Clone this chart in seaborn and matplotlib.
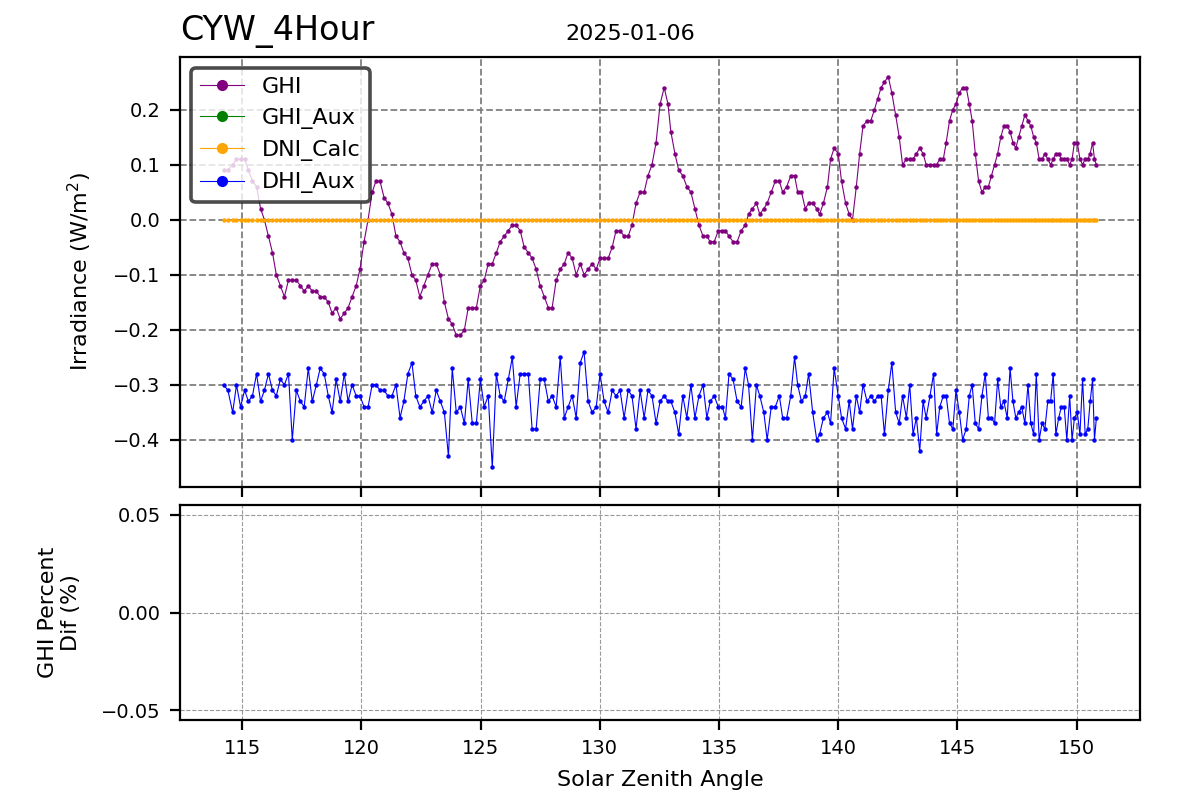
import numpy as np
import pandas as pd
import matplotlib
matplotlib.use("Agg")
import matplotlib.pyplot as plt
import seaborn as sns
from matplotlib.lines import Line2D

# ---------------- data ----------------
zenith = [
    114.22, 114.40, 114.60, 114.76, 114.93, 115.10, 115.26, 115.43, 115.60, 115.77,
    115.93, 116.10, 116.27, 116.43, 116.60, 116.77, 116.94, 117.10, 117.27, 117.44,
    117.60, 117.77, 117.94, 118.11, 118.27, 118.44, 118.61, 118.77, 118.94, 119.11,
    119.28, 119.44, 119.61, 119.78, 119.94, 120.11, 120.28, 120.45, 120.61, 120.78,
    120.95, 121.11, 121.28, 121.45, 121.62, 121.78, 121.95, 122.12, 122.28, 122.45,
    122.62, 122.79,
    122.97, 123.14, 123.31, 123.48, 123.65, 123.81, 123.98, 124.15, 124.32, 124.48,
    124.65, 124.82, 124.99, 125.15, 125.32, 125.49, 125.66, 125.82, 125.99, 126.16,
    126.33, 126.49, 126.66, 126.83, 127.00, 127.16, 127.33, 127.50, 127.67, 127.84,
    128.00, 128.17, 128.34, 128.51, 128.67, 128.84, 129.01, 129.18, 129.34, 129.51,
    129.68, 129.85, 130.01, 130.18, 130.35, 130.52, 130.68, 130.85, 131.02, 131.19,
    131.35, 131.52, 131.69, 131.86, 132.02, 132.19, 132.36, 132.53, 132.70, 132.86,
    132.98, 133.15, 133.31, 133.48, 133.65, 133.82, 133.99, 134.16, 134.33, 134.49,
    134.63, 134.80, 134.97, 135.14, 135.27, 135.42, 135.59, 135.76, 135.93, 136.10,
    136.24, 136.40, 136.57, 136.71, 136.88, 137.02, 137.19, 137.36, 137.53, 137.67,
    137.84, 138.01, 138.17, 138.30, 138.46, 138.62, 138.76, 138.93, 139.10, 139.22,
    139.38, 139.55, 139.68, 139.83, 140.00, 140.14, 140.31, 140.46, 140.60, 140.76,
    140.90, 141.04, 141.21, 141.37, 141.52, 141.66, 141.80, 141.94, 142.10, 142.25,
    142.41, 142.56, 142.70, 142.86, 143.00,
    143.14, 143.28, 143.42, 143.56, 143.69, 143.85, 144.00, 144.13, 144.26, 144.41,
    144.53, 144.67, 144.81, 144.94, 145.08, 145.22, 145.37, 145.50, 145.62, 145.75,
    145.89, 146.03, 146.17, 146.30, 146.43, 146.56, 146.69, 146.82, 146.95, 147.09,
    147.21, 147.33, 147.45, 147.57, 147.70, 147.83, 147.96, 148.08, 148.20, 148.31,
    148.43, 148.55, 148.67, 148.79, 148.91, 149.02, 149.13, 149.25, 149.36, 149.48,
    149.59, 149.71, 149.81, 149.91, 150.03, 150.14, 150.25, 150.36, 150.47, 150.57,
    150.67, 150.75, 150.83,
]

ghi = [
    0.09, 0.09, 0.10, 0.11, 0.11, 0.11, 0.09, 0.07, 0.06, 0.02,
    0.00, -0.03, -0.06, -0.10, -0.12, -0.14, -0.11, -0.11, -0.11, -0.12,
    -0.13, -0.12, -0.13, -0.13, -0.14, -0.14, -0.15, -0.17, -0.16, -0.18,
    -0.17, -0.16, -0.14, -0.12, -0.09, -0.04, 0.00, 0.05, 0.07, 0.07,
    0.04, 0.03, 0.01, -0.03, -0.04, -0.06, -0.07, -0.10, -0.11, -0.14,
    -0.12, -0.10,
    -0.08, -0.08, -0.10, -0.15, -0.18, -0.19, -0.21, -0.21, -0.20, -0.16,
    -0.16, -0.16, -0.12, -0.11, -0.08, -0.08, -0.06, -0.04, -0.03, -0.02,
    -0.01, -0.01, -0.02, -0.05, -0.06, -0.07, -0.09, -0.12, -0.14, -0.16,
    -0.16, -0.11, -0.09, -0.08, -0.06, -0.07, -0.10, -0.08, -0.10, -0.09,
    -0.08, -0.09, -0.07, -0.07, -0.07, -0.05, -0.02, -0.02, -0.03, -0.03,
    -0.01, 0.03, 0.05, 0.05, 0.08, 0.10, 0.14, 0.21, 0.24, 0.21,
    0.16, 0.12, 0.09, 0.08, 0.06, 0.05, 0.02, -0.01, -0.03, -0.03,
    -0.04, -0.04, -0.02, -0.02, -0.02, -0.03, -0.04, -0.04, -0.02, -0.01,
    0.01, 0.02, 0.03, 0.01, 0.02, 0.03, 0.05, 0.07, 0.07, 0.05,
    0.06, 0.08, 0.08, 0.05, 0.05, 0.02, 0.03, 0.03, 0.02, 0.01,
    0.03, 0.06, 0.11, 0.13, 0.12, 0.07, 0.03, 0.01, 0.00, 0.06,
    0.12, 0.17, 0.18, 0.18, 0.20, 0.22, 0.24, 0.25, 0.26, 0.23,
    0.19, 0.15, 0.10, 0.11, 0.11,
    0.11, 0.12, 0.13, 0.12, 0.10, 0.10, 0.10, 0.10, 0.11, 0.11,
    0.14, 0.18, 0.20, 0.21, 0.23, 0.24, 0.24, 0.21, 0.18, 0.12,
    0.07, 0.05, 0.06, 0.06, 0.08, 0.10, 0.12, 0.15, 0.17, 0.17,
    0.16, 0.14, 0.13, 0.15, 0.17, 0.19, 0.18, 0.17, 0.15, 0.14,
    0.11, 0.11, 0.12, 0.11, 0.10, 0.11, 0.12, 0.12, 0.11, 0.11,
    0.11, 0.10, 0.11, 0.14, 0.14, 0.11, 0.10, 0.11, 0.11, 0.12,
    0.14, 0.11, 0.10,
]

dhi_aux = [
    -0.30, -0.31, -0.35, -0.30, -0.34, -0.31, -0.33, -0.32, -0.28, -0.33,
    -0.31, -0.28, -0.31, -0.32, -0.29, -0.30, -0.28, -0.40, -0.31, -0.33,
    -0.34, -0.27, -0.33, -0.30, -0.27, -0.28, -0.32, -0.35, -0.29, -0.33,
    -0.28, -0.33, -0.30, -0.32, -0.32, -0.34, -0.34, -0.30, -0.30, -0.31,
    -0.31, -0.32, -0.32, -0.30, -0.36, -0.33, -0.28, -0.26, -0.32, -0.34,
    -0.33, -0.32,
    -0.35, -0.31, -0.33, -0.35, -0.43, -0.27, -0.35, -0.34, -0.37, -0.29,
    -0.37, -0.37, -0.29, -0.34, -0.32, -0.45, -0.28, -0.32, -0.33, -0.29,
    -0.25, -0.34, -0.28, -0.28, -0.28, -0.38, -0.38, -0.29, -0.29, -0.33,
    -0.32, -0.34, -0.25, -0.36, -0.34, -0.32, -0.36, -0.26, -0.24, -0.33,
    -0.35, -0.34, -0.28, -0.33, -0.35, -0.31, -0.32, -0.31, -0.36, -0.31,
    -0.32, -0.38, -0.31, -0.36, -0.31, -0.32, -0.37, -0.33, -0.32, -0.33,
    -0.33, -0.35, -0.39, -0.32, -0.36, -0.30, -0.36, -0.32, -0.30, -0.36,
    -0.33, -0.32, -0.34, -0.34, -0.36, -0.28, -0.29, -0.33, -0.34, -0.27,
    -0.30, -0.40, -0.30, -0.32, -0.35, -0.40, -0.34, -0.34, -0.32, -0.36,
    -0.36, -0.32, -0.25, -0.30, -0.33, -0.32, -0.28, -0.35, -0.40, -0.39,
    -0.36, -0.35, -0.37, -0.27, -0.32, -0.36, -0.38, -0.33, -0.38, -0.32,
    -0.35, -0.30, -0.33, -0.32, -0.33, -0.32, -0.32, -0.39, -0.31, -0.26,
    -0.35, -0.37, -0.32, -0.36, -0.30,
    -0.39, -0.36, -0.42, -0.33, -0.36, -0.32, -0.28, -0.39, -0.34, -0.32,
    -0.32, -0.37, -0.38, -0.31, -0.35, -0.40, -0.38, -0.32, -0.30, -0.37,
    -0.38, -0.32, -0.28, -0.36, -0.36, -0.37, -0.29, -0.34, -0.33, -0.36,
    -0.27, -0.33, -0.36, -0.35, -0.34, -0.37, -0.30, -0.37, -0.39, -0.28,
    -0.40, -0.37, -0.38, -0.33, -0.33, -0.28, -0.39, -0.36, -0.34, -0.34,
    -0.40, -0.32, -0.40, -0.36, -0.35, -0.39, -0.29, -0.39, -0.38, -0.33,
    -0.29, -0.40, -0.36,
]

dni_calc = [0.0] * len(zenith)          # flat at zero across the whole range
ghi_aux = [np.nan] * len(zenith)        # no visible values

series_names = ["GHI", "GHI_Aux", "DNI_Calc", "DHI_Aux"]
series_colors = ["purple", "green", "orange", "blue"]

station_title = "CYW_4Hour"
date_title = "2025-01-06"

df = pd.DataFrame({
    "zenith": zenith,
    "GHI": ghi,
    "GHI_Aux": ghi_aux,
    "DNI_Calc": dni_calc,
    "DHI_Aux": dhi_aux,
})

# ---------------- figure ----------------
fig = plt.figure(figsize=(6, 4), dpi=200)
gs = fig.add_gridspec(2, 1, height_ratios=[2, 1], left=0.15, right=0.95,
                      top=0.92875, bottom=0.10, hspace=0.056)
ax1 = fig.add_subplot(gs[0])
ax2 = fig.add_subplot(gs[1], sharex=ax1)

for name, color in zip(series_names, series_colors):
    if df[name].notna().any():
        sns.lineplot(data=df, x="zenith", y=name, ax=ax1, color=color,
                     marker="o", markersize=1.6, markeredgewidth=0,
                     linewidth=0.4, estimator=None, sort=False, legend=False)

ax1.grid(True, linestyle="--", color="gray", linewidth=0.65)
ax1.set_axisbelow(True)
ax1.set_ylabel("Irradiance (W/m$^2$)", fontsize=8, labelpad=7)
ax1.set_xlabel("")
ax1.tick_params(axis="both", labelsize=7)
ax1.tick_params(axis="x", labelbottom=False)
ax1.set_title(station_title, loc="left", fontsize=12)
date_txt = ax1.set_title(date_title, loc="center", fontsize=8)
date_txt.set_x(0.469)

handles = [Line2D([0], [0], color=c, marker="o", markersize=3, linewidth=0.4)
           for c in series_colors]
leg = ax1.legend(handles, series_names, loc="upper left", fontsize=8,
                 frameon=True, fancybox=True, framealpha=0.8)
leg.get_frame().set_edgecolor("0.12")
leg.get_frame().set_linewidth(1.3)

# lower panel (no data)
ax2.set_ylim(-0.055, 0.055)
ax2.set_yticks([-0.05, 0.0, 0.05])
ax2.grid(True, linestyle="--", color="gray", linewidth=0.4, alpha=0.8)
ax2.set_ylabel("GHI Percent\nDif (%)", fontsize=8, labelpad=7)
ax2.set_xlabel("Solar Zenith Angle", fontsize=8)
ax2.tick_params(axis="both", labelsize=7)

ax1.set_xlim(112.39, 152.66)
ax1.set_xticks([115, 120, 125, 130, 135, 140, 145, 150])

fig.savefig("out.png", dpi=200)
